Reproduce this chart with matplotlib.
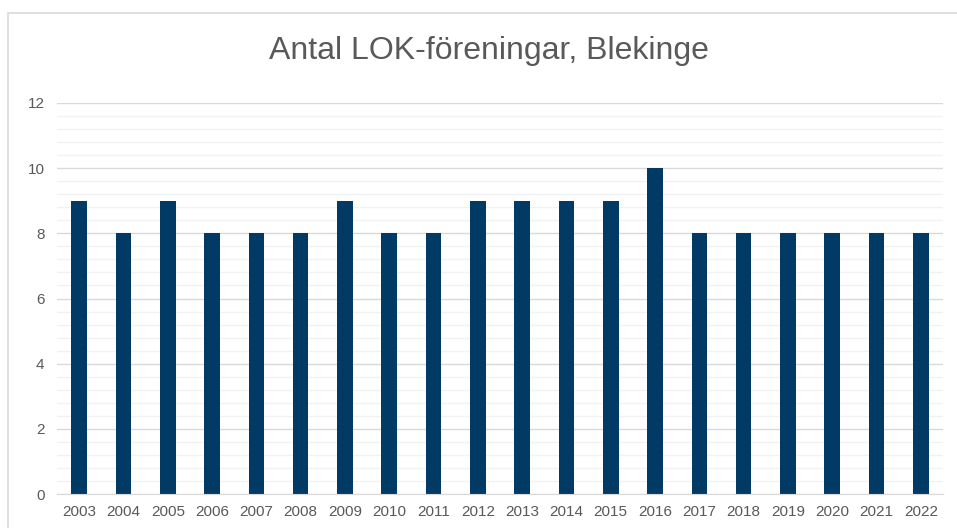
import matplotlib.pyplot as plt
from matplotlib.patches import Rectangle
from matplotlib.ticker import MultipleLocator

plt.rcParams['font.family'] = ['Liberation Sans', 'DejaVu Sans']

years = [str(y) for y in range(2003, 2023)]
antal = [9, 8, 9, 8, 8, 8, 9, 8, 8, 9, 9, 9, 9, 10, 8, 8, 8, 8, 8, 8]

fig = plt.figure(figsize=(9.57, 5.28), dpi=100)
ax = fig.add_axes([57/957, 1 - 494/528, 886/957, 391/528])

# chart border (cropped on right/bottom)
fig.patches.append(Rectangle((8/957, -0.1), 1.2, 1 - 13/528 + 0.1, transform=fig.transFigure,
                             fill=False, edgecolor='#d9d9d9', linewidth=1.2))

x = range(len(years))
ax.bar(x, antal, width=0.35, color='#023A66', zorder=3)

ax.set_xlim(-0.5, len(years) - 0.5)
ax.set_ylim(0, 12)
ax.yaxis.set_major_locator(MultipleLocator(2))
ax.yaxis.set_minor_locator(MultipleLocator(0.4))
ax.grid(axis='y', which='major', color='#d9d9d9', linewidth=1, zorder=0)
ax.grid(axis='y', which='minor', color='#f2f2f2', linewidth=1, zorder=0)
ax.set_xticks(list(x))
ax.set_xticklabels(years)

for s in ['top', 'right', 'left']:
    ax.spines[s].set_visible(False)
ax.spines['bottom'].set_color('#d9d9d9')
ax.spines['bottom'].set_zorder(4)
ax.tick_params(axis='both', which='both', length=0, colors='#595959', labelsize=11)
ax.tick_params(axis='y', pad=9)
ax.tick_params(axis='x', pad=8)

fig.text(489/957, 1 - 51/528, 'Antal LOK-föreningar, Blekinge', ha='center', va='center',
         fontsize=23, color='#595959')

fig.savefig('out.png', dpi=100)
